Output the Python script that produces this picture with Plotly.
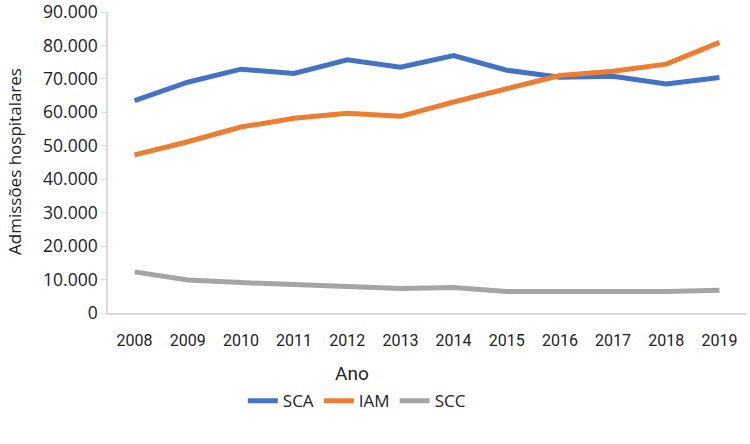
import plotly.graph_objects as go

anos = ["2008", "2009", "2010", "2011", "2012", "2013", "2014", "2015", "2016", "2017", "2018", "2019"]
sca = [63500, 69000, 72900, 71600, 75700, 73500, 77000, 72600, 70500, 70800, 68500, 70400]
iam = [47300, 51200, 55600, 58200, 59700, 58800, 63100, 67000, 71000, 72300, 74400, 80900]
scc = [12300, 9900, 9100, 8500, 7900, 7300, 7600, 6400, 6400, 6400, 6400, 6800]
y_ticks = [0, 10000, 20000, 30000, 40000, 50000, 60000, 70000, 80000, 90000]

font_family = "Liberation Sans Narrow, Roboto, Arial"

fig = go.Figure()
for name, vals, color in [("SCA", sca, "#4472C4"), ("IAM", iam, "#ED7D31"), ("SCC", scc, "#A5A5A5")]:
    fig.add_trace(go.Scatter(x=anos, y=vals, name=name, mode="lines",
                             line=dict(color=color, width=5)))

fig.update_layout(
    width=750, height=444,
    margin=dict(l=108, r=4, t=12, b=131, autoexpand=False),
    plot_bgcolor="white", paper_bgcolor="white",
    separators=",.",
    showlegend=True,
    legend=dict(orientation="h", x=0.39, xanchor="center", y=-0.233, yanchor="top",
                font=dict(family="Open Sans, Arial", size=17, color="#222"),
                tracegroupgap=0, itemwidth=30),
    font=dict(family=font_family, color="#222"),
)
fig.update_xaxes(type="category", range=[-0.5, 11.5], automargin=False, showgrid=False,
                 showline=True, linecolor="#D9D9D9", linewidth=1.5,
                 ticks="", tickfont=dict(size=16, family=font_family), ticklabelstandoff=12)
fig.update_yaxes(range=[0, 90000], tickvals=y_ticks, tickformat=",d", showgrid=False, automargin=False,
                 showline=True, linecolor="#D9D9D9", linewidth=1.5, ticks="outside",
                 ticklen=5, tickcolor="#D9D9D9", zeroline=False, ticklabeloverflow="allow",
                 tickfont=dict(size=17.5, family="Open Sans, Arial"))
fig.add_annotation(text="Ano", xref="paper", yref="paper", x=(352 - 108) / 638, y=-(373 - 313) / 301,
                   showarrow=False, font=dict(size=19, family=font_family), yanchor="middle")
fig.add_annotation(text="Admissões hospitalares", xref="paper", yref="paper",
                   x=-(108 - 14) / 638, y=(313 - 162) / 301, textangle=-90, showarrow=False,
                   font=dict(size=17, family="Open Sans, Arial"), xanchor="center", yanchor="middle")

fig.write_html("out.html", config={"displayModeBar": False},
               post_script="document.body.style.margin='0';")
